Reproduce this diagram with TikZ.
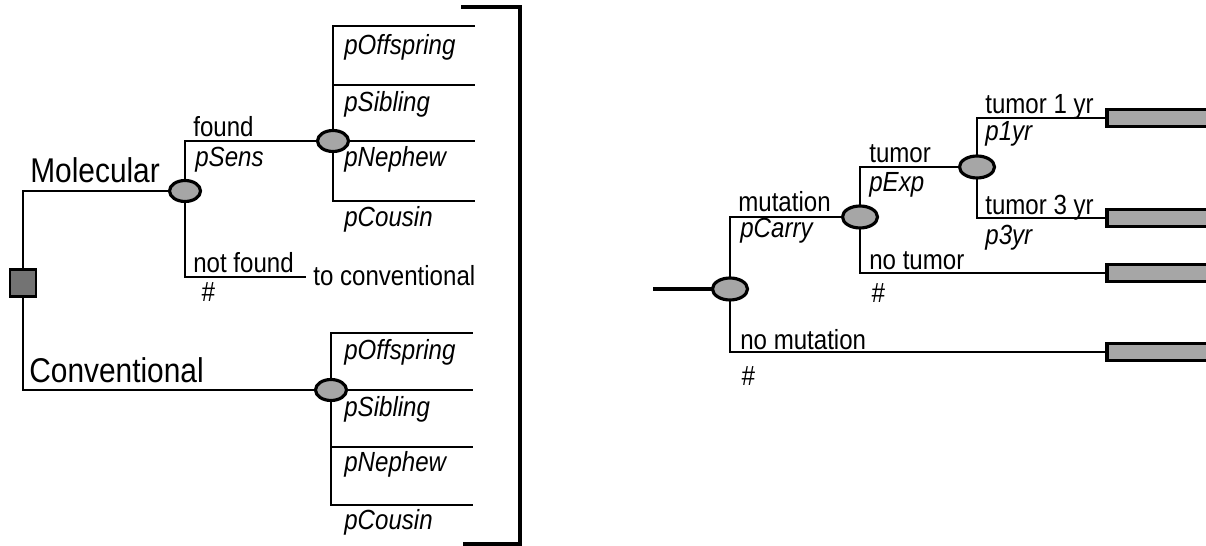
\documentclass[tikz,border=0pt]{standalone}
\usepackage{fontspec}
\setmainfont{Liberation Sans}
\usetikzlibrary{arrows, positioning, shapes.geometric}

\begin{document}
\begin{tikzpicture}[x=0.02cm, y=-0.02cm]
		\tikzstyle{Chance} = [ellipse, minimum width=0.62cm, minimum height=0.42cm, inner sep=0pt, outer sep=0pt, draw=black, line width=1.8pt, fill=black!35]
		\tikzstyle{BigChance} = [Chance, minimum width=0.7cm, minimum height=0.44cm]
		\tikzstyle{Decision} = [rectangle, minimum width=0.52cm, minimum height=0.54cm, inner sep=0pt, outer sep=0pt, draw=black, line width=1.2pt, fill=black!55]
		\tikzstyle{Terminal} = [rectangle, anchor=west, minimum width=2.4cm, minimum height=0.34cm, inner sep=0pt, outer sep=0pt, draw=black, line width=1.8pt, fill=black!35]
		\tikzstyle{branch} = [line width=1.4pt, black]
		\tikzstyle{Lbl} = [anchor=base west, inner sep=0pt, yscale=1.15, transform shape, font=\fontsize{13.7}{16}\selectfont]
		\tikzstyle{Prob} = [Lbl, font=\fontsize{13.7}{16}\selectfont\itshape]
		\tikzstyle{Big} = [Lbl, font=\fontsize{17}{20}\selectfont]
		
		\useasboundingbox (0,0) rectangle (1206,546);
		\clip (0,0) rectangle (1206,546);
		
		\node (dec) [Decision] at (23,283) {};
		\node (c1) [Chance] at (185,191) {};
		\node (c2) [Chance] at (333,141) {};
		\node (c3) [Chance] at (331,390) {};
		\coordinate (nf) at (306,277);
		\coordinate (o1) at (475,26);
		\coordinate (s1) at (475,85);
		\coordinate (n1) at (475,141);
		\coordinate (k1) at (475,201);
		\coordinate (o2) at (473,333);
		\coordinate (s2) at (473,390);
		\coordinate (n2) at (473,447);
		\coordinate (k2) at (473,505);
		
		\draw [branch] (dec) |- (c1);
		\draw [branch] (dec) |- (c3);
		\draw [branch] (c1) |- (c2);
		\draw [branch] (c1) |- (nf);
		\draw [branch] (c2) |- (o1);
		\draw [branch] (c2) |- (s1);
		\draw [branch] (c2) -- (n1);
		\draw [branch] (c2) |- (k1);
		\draw [branch] (c3) |- (o2);
		\draw [branch] (c3) -- (s2);
		\draw [branch] (c3) |- (n2);
		\draw [branch] (c3) |- (k2);
		
		\node (mol) [Big] at (30,183) {Molecular};
		\node (conv) [Big] at (29,383) {Conventional};
		\node (fnd) [Lbl] at (193,137) {found};
		\node (psens) [Prob] at (195,167) {pSens};
		\node (nfnd) [Lbl] at (193,273) {not found};
		\node (h1) [Prob] at (201,302) {\#};
		\node (toconv) [Lbl] at (313,286) {to conventional};
		\node (po1) [Prob] at (344,55) {pOffspring};
		\node (ps1) [Prob] at (344,112) {pSibling};
		\node (pn1) [Prob] at (344,167) {pNephew};
		\node (pc1) [Prob] at (344,227) {pCousin};
		\node (po2) [Prob] at (344,360) {pOffspring};
		\node (ps2) [Prob] at (344,417) {pSibling};
		\node (pn2) [Prob] at (344,472) {pNephew};
		\node (pc2) [Prob] at (344,530) {pCousin};
		
		\draw [line width=2.3pt, black] (461,7) -- (520,7) -- (520,544) -- (463,544);
		
		\coordinate (st) at (653,289);
		\node (c4) [BigChance] at (730,289) {};
		\node (c5) [BigChance] at (860,217) {};
		\node (c6) [BigChance] at (977,167) {};
		\node (t1) [Terminal] at (1107,118) {};
		\node (t2) [Terminal] at (1107,218) {};
		\node (t3) [Terminal] at (1107,273) {};
		\node (t4) [Terminal] at (1107,352) {};
		
		\draw [line width=2.3pt, black] (st) -- (c4);
		\draw [branch] (c4) |- (c5);
		\draw [branch] (c4) |- (t4);
		\draw [branch] (c5) |- (c6);
		\draw [branch] (c5) |- (t3);
		\draw [branch] (c6) |- (t1);
		\draw [branch] (c6) |- (t2);
		
		\node (mut) [Lbl] at (738,212) {mutation};
		\node (pcar) [Prob] at (740,238) {pCarry};
		\node (nmut) [Lbl] at (740,350) {no mutation};
		\node (h2) [Prob] at (741,386) {\#};
		\node (tum) [Lbl] at (869,163) {tumor};
		\node (pexp) [Prob] at (869,192) {pExp};
		\node (ntum) [Lbl] at (869,270) {no tumor};
		\node (h3) [Prob] at (871,303) {\#};
		\node (tum1) [Lbl] at (985,114) {tumor 1 yr};
		\node (p1) [Prob] at (985,141) {p1yr};
		\node (tum3) [Lbl] at (985,215) {tumor 3 yr};
		\node (p3) [Prob] at (985,245) {p3yr};
\end{tikzpicture}
\end{document}
